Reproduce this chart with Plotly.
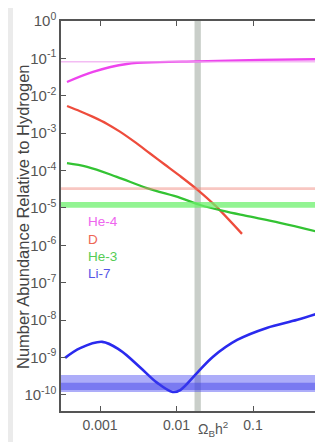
import plotly.graph_objects as go

# ---- data ----
he4_x = [3.7e-4, 8.1e-4, 2.24e-3, 6.0e-3, 0.0186, 0.123, 0.82]
he4_y = [0.0234, 0.0437, 0.0708, 0.0794, 0.0832, 0.0912, 0.0955]

d_x = [3.71e-4, 5.48e-4, 8.1e-4, 1.24e-3, 1.82e-3, 2.87e-3, 4.51e-3, 7.08e-3, 0.0111, 0.0185, 0.0319, 0.0718]
d_y = [5.33e-3, 3.87e-3, 2.73e-3, 1.77e-3, 1.10e-3, 5.74e-4, 2.86e-4, 1.43e-4, 7.18e-5, 3.16e-5, 1.17e-5, 2.03e-6]

he3_x = [3.7e-4, 6.8e-4, 1.66e-3, 4.1e-3, 0.0112, 0.0204, 0.041, 0.079, 0.224, 0.82]
he3_y = [1.58e-4, 1.26e-4, 6.8e-5, 3.4e-5, 1.86e-5, 1.2e-5, 8.3e-6, 6.2e-6, 4.0e-6, 2.14e-6]

li7_x = [3.5e-4, 5.5e-4, 1.07e-3, 1.82e-3, 3.3e-3, 5.6e-3, 8.9e-3, 0.0112, 0.0186, 0.030, 0.062, 0.151, 0.38, 0.82]
li7_y = [9.8e-10, 1.78e-9, 2.63e-9, 1.58e-9, 5.6e-10, 2.1e-10, 1.2e-10, 1.35e-10, 3.9e-10, 1.05e-9, 2.95e-9, 6.2e-9, 1.02e-8, 1.66e-8]

# observed abundance bands (low, high)
he4_obs = 0.081
d_band = (3.0e-5, 3.6e-5)
he3_band = (1.02e-5, 1.45e-5)
li7_band_wide = (1.2e-10, 3.4e-10)
li7_band_core = (1.35e-10, 2.1e-10)
omega_band = (0.0172, 0.0208)

x_span = (1e-4, 10)  # horizontal bands run across the full axis
y_span = (1e-12, 10)

y_tickvals = [10.0 ** -k for k in range(0, 11)]
y_ticktext = ["10<sup>%s</sup>" % (str(-k) if k else "0") for k in range(0, 11)]
x_tickvals = [0.001, 0.01, 0.1]
x_ticktext = ["0.001", "0.01", "0.1"]

legend_names = ["He-4", "D", "He-3", "Li-7"]
legend_colors = ["#ee66ee", "#ee6655", "#55cc55", "#5555e6"]

FONT = "Liberation Sans, Arial, sans-serif"

# figure geometry (page body adds an 8px offset)
W, H = 315, 434
ML, MT, MR, MB = 53, 13, 0, 31
PW, PH = W - ML - MR, H - MT - MB


def px(xp):  # figure-pixel x -> paper
    return (xp - ML) / PW


def py(yp):  # figure-pixel y -> paper
    return (H - MB - yp) / PH


fig = go.Figure()


def hband(lo, hi, color):
    fig.add_trace(go.Scatter(
        x=[x_span[0], x_span[1], x_span[1], x_span[0], x_span[0]],
        y=[lo, lo, hi, hi, lo], mode="lines", line=dict(width=0),
        fill="toself", fillcolor=color, hoverinfo="skip", showlegend=False))


# vertical Omega_B band
fig.add_trace(go.Scatter(
    x=[omega_band[0], omega_band[1], omega_band[1], omega_band[0], omega_band[0]],
    y=[y_span[0], y_span[0], y_span[1], y_span[1], y_span[0]],
    mode="lines", line=dict(width=0), fill="toself", fillcolor="#c9cec9",
    hoverinfo="skip", showlegend=False))

# theory curves
fig.add_trace(go.Scatter(x=he4_x, y=he4_y, mode="lines", line=dict(color="#ee44ee", width=2.3, shape="spline"), showlegend=False))
fig.add_trace(go.Scatter(x=d_x, y=d_y, mode="lines", line=dict(color="#ee4c3c", width=2.3, shape="spline", smoothing=0.8), showlegend=False))
fig.add_trace(go.Scatter(x=he3_x, y=he3_y, mode="lines", line=dict(color="#33c333", width=2.3, shape="spline"), showlegend=False))
fig.add_trace(go.Scatter(x=li7_x, y=li7_y, mode="lines", line=dict(color="#2a2aee", width=2.6, shape="spline"), showlegend=False))

# observed bands
fig.add_trace(go.Scatter(x=list(x_span), y=[he4_obs, he4_obs], mode="lines",
                         line=dict(color="rgba(238,160,238,0.7)", width=1.5), showlegend=False))
hband(d_band[0], d_band[1], "rgba(240,130,120,0.45)")
hband(he3_band[0], he3_band[1], "rgba(110,240,110,0.75)")
hband(li7_band_wide[0], li7_band_wide[1], "rgba(60,60,240,0.42)")
hband(li7_band_core[0], li7_band_core[1], "rgba(60,60,230,0.45)")

# legend labels
leg_y = [214, 231, 248, 265]
for name, col, yy in zip(legend_names, legend_colors, leg_y):
    fig.add_annotation(text=name, xref="paper", yref="paper",
                       x=px(78), y=py(yy),
                       xanchor="left", yanchor="middle", showarrow=False,
                       font=dict(family=FONT, size=13.5, color=col))

# axis titles
fig.add_annotation(text="Number Abundance Relative to Hydrogen", xref="paper", yref="paper",
                   x=px(15), y=py(209), textangle=-90,
                   xanchor="center", yanchor="middle", showarrow=False,
                   font=dict(family=FONT, size=16.5, color="#444444"))
fig.add_annotation(text="Ω<sub>B</sub>h<sup>2</sup>", xref="paper", yref="paper",
                   x=px(205), y=py(421),
                   xanchor="center", yanchor="middle", showarrow=False,
                   font=dict(family=FONT, size=14, color="#555555"))

# grey page strip on the left
fig.add_shape(type="rect", xref="paper", yref="paper", x0=px(-2), x1=px(5),
              y0=-0.2, y1=1.2, fillcolor="#ebebeb", line=dict(width=0), layer="below")

axis_common = dict(showline=True, linecolor="#555555", linewidth=1.5, mirror="ticks",
                   ticks="inside", ticklen=5, tickwidth=1.2, tickcolor="#555555",
                   showgrid=False, zeroline=False, automargin=False)

fig.update_xaxes(type="log", range=[-3.51, -0.085], tickvals=x_tickvals, ticktext=x_ticktext,
                 tickfont=dict(family=FONT, size=14, color="#555555"), **axis_common)
fig.update_yaxes(type="log", range=[-10.43, 0], tickvals=y_tickvals, ticktext=y_ticktext,
                 tickfont=dict(family=FONT, size=15, color="#555555"), **axis_common)

fig.update_layout(width=W, height=H, margin=dict(l=ML, r=MR, t=MT, b=MB, autoexpand=False),
                  paper_bgcolor="white", plot_bgcolor="white", showlegend=False)

fig.write_html("out.html")
